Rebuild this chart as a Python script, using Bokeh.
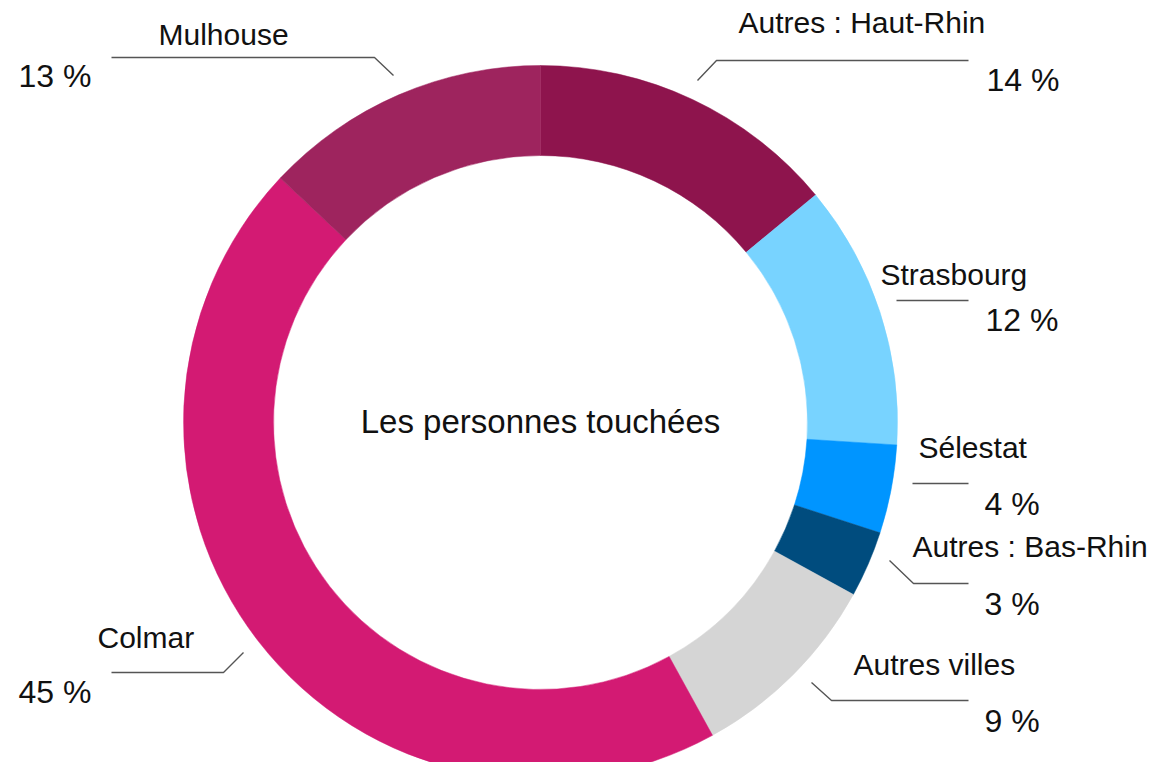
import math
from bokeh.plotting import figure
from bokeh.models import Range1d, ColumnDataSource
from bokeh.core.properties import value
from bokeh.embed import file_html
from bokeh.resources import INLINE

# ---- data ----
categories = ["Autres : Haut-Rhin", "Strasbourg", "Sélestat", "Autres : Bas-Rhin",
              "Autres villes", "Colmar", "Mulhouse"]
shares = [14, 12, 4, 3, 9, 45, 13]
pct_labels = ["14 %", "12 %", "4 %", "3 %", "9 %", "45 %", "13 %"]
center_title = "Les personnes touchées"

# ---- styles ----
palette = ["#8E144D", "#78D3FF", "#0095FF", "#004C7E", "#D5D5D5", "#D31A73", "#9E245E"]
FONT = "Liberation Sans"
NAME_SIZE, PCT_SIZE, TITLE_SIZE = 30, 32, 33
BASE_SHIFT = 0.36  # em correction for baseline placement

# ---- layout (reference pixel coordinates, y from top) ----
FW, FH = 1148, 762
H = 778
CX, CY = 540, 422
R_OUT, R_IN = 357, 267

layout = {
    "Autres : Haut-Rhin": dict(line=[(697, 80), (716, 60), (968, 60)], name=(738, 33), pct=(986, 91)),
    "Strasbourg": dict(line=[(896, 300), (968, 300)], name=(880, 285), pct=(985, 331)),
    "Sélestat": dict(line=[(912, 483), (968, 483)], name=(918, 458), pct=(984, 515)),
    "Autres : Bas-Rhin": dict(line=[(889, 560), (913, 583), (968, 583)], name=(912, 557), pct=(984, 615)),
    "Autres villes": dict(line=[(811, 682), (831, 700), (968, 700)], name=(853, 675), pct=(984, 732)),
    "Colmar": dict(line=[(243, 652), (223, 672), (111, 672)], name=(97, 648), pct=(18, 703)),
    "Mulhouse": dict(line=[(393, 75), (374, 57), (111, 57)], name=(158, 45), pct=(18, 87)),
}


def fy(y):
    return H - y


total = sum(shares)
starts, ends = [], []
cum = 0.0
for s in shares:
    starts.append(math.pi / 2 - 2 * math.pi * cum / total)
    cum += s
    ends.append(math.pi / 2 - 2 * math.pi * cum / total)

src = ColumnDataSource(dict(cat=categories, start=starts, end=ends, color=palette))

p = figure(width=FW, height=FH, x_range=Range1d(0, FW), y_range=Range1d(H - FH, H),
           output_backend="svg", toolbar_location=None, min_border=0,
           outline_line_color=None, background_fill_color="white", border_fill_color="white")
p.axis.visible = False
p.xgrid.visible = False
p.ygrid.visible = False

p.annular_wedge(x=CX, y=fy(CY), inner_radius=R_IN, outer_radius=R_OUT,
                start_angle="start", end_angle="end", direction="clock",
                fill_color="color", line_color="color", line_width=0.5, source=src)

# leader lines
for cat in categories:
    pts = layout[cat]["line"]
    p.line([q[0] for q in pts], [fy(q[1]) for q in pts], line_color="#555555", line_width=1.4)

# names
p.text(x=[layout[c]["name"][0] for c in categories],
       y=[fy(layout[c]["name"][1] - BASE_SHIFT * NAME_SIZE) for c in categories],
       text=categories, text_font=value(FONT), text_font_size=f"{NAME_SIZE}px", text_color="#111111",
       text_align="left", text_baseline="alphabetic")
# percentages
p.text(x=[layout[c]["pct"][0] for c in categories],
       y=[fy(layout[c]["pct"][1] - BASE_SHIFT * PCT_SIZE) for c in categories],
       text=pct_labels, text_font=value(FONT), text_font_size=f"{PCT_SIZE}px", text_color="#111111",
       text_align="left", text_baseline="alphabetic")
# center title
p.text(x=[CX], y=[fy(433 - BASE_SHIFT * TITLE_SIZE)], text=[center_title], text_font=value(FONT),
       text_font_size=f"{TITLE_SIZE}px", text_color="#111111", text_align="center",
       text_baseline="alphabetic")

open("out.html", "w").write(file_html(p, INLINE))
